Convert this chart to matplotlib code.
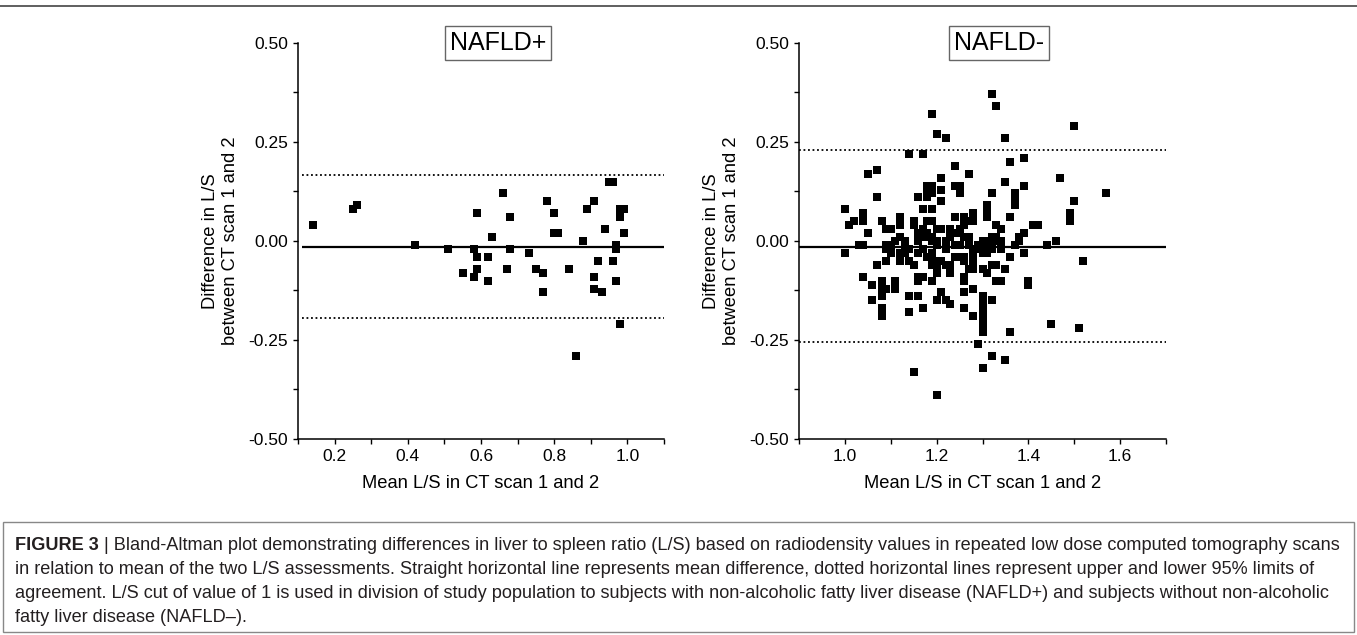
import matplotlib
matplotlib.use("Agg")
import matplotlib.pyplot as plt
from matplotlib.ticker import MultipleLocator, FormatStrFormatter
from matplotlib.lines import Line2D
from matplotlib.patches import Rectangle

plt.rcParams['font.family'] = ['Liberation Sans', 'DejaVu Sans']

# NAFLD+ panel: mean L/S vs difference in L/S
pos_mean = [0.14, 0.25, 0.26, 0.42, 0.51, 0.55, 0.58, 0.58, 0.59, 0.59, 0.59,
            0.62, 0.62, 0.63, 0.66, 0.67, 0.68, 0.68, 0.73, 0.75, 0.77, 0.77,
            0.78, 0.80, 0.80, 0.81, 0.84, 0.86, 0.88, 0.89, 0.91, 0.91, 0.91,
            0.92, 0.93, 0.94, 0.95, 0.96, 0.96, 0.97, 0.97, 0.97, 0.98, 0.98,
            0.98, 0.99, 0.99]
pos_diff = [0.04, 0.08, 0.09, -0.01, -0.02, -0.08, -0.02, -0.09, 0.07, -0.04, -0.07,
            -0.04, -0.10, 0.01, 0.12, -0.07, 0.06, -0.02, -0.03, -0.07, -0.08, -0.13,
            0.10, 0.07, 0.02, 0.02, -0.07, -0.29, 0.00, 0.08, 0.10, -0.09, -0.12,
            -0.05, -0.13, 0.03, 0.15, 0.15, -0.05, -0.01, -0.02, -0.10, 0.08, 0.06,
            -0.21, 0.08, 0.02]
pos_bias = -0.014
pos_limits = [0.167, -0.194]

# NAFLD- panel
neg_mean = [
    1.00, 1.00, 1.01, 1.02, 1.03, 1.04, 1.04, 1.04, 1.04, 1.05, 1.05,
    1.06, 1.06, 1.07, 1.07, 1.07, 1.08, 1.08, 1.08, 1.08, 1.08, 1.08,
    1.09, 1.09, 1.09, 1.09, 1.09, 1.10, 1.10, 1.10, 1.11, 1.11, 1.11,
    1.12, 1.12, 1.12, 1.12, 1.12, 1.13, 1.13, 1.13,
    1.14, 1.14, 1.14, 1.14, 1.14, 1.15, 1.15, 1.15, 1.15,
    1.16, 1.16, 1.16, 1.16, 1.16, 1.16, 1.16,
    1.17, 1.17, 1.17, 1.17, 1.17, 1.17, 1.17,
    1.18, 1.18, 1.18, 1.18, 1.18, 1.18, 1.18,
    1.19, 1.19, 1.19, 1.19, 1.19, 1.19, 1.19, 1.19, 1.19, 1.19, 1.19,
    1.20, 1.20, 1.20, 1.20, 1.20, 1.20, 1.20, 1.20, 1.20,
    1.21, 1.21, 1.21, 1.21, 1.21, 1.21,
    1.22, 1.22, 1.22, 1.22, 1.22,
    1.23, 1.23, 1.23, 1.23, 1.23,
    1.24, 1.24, 1.24, 1.24, 1.24, 1.24,
    1.25, 1.25, 1.25, 1.25, 1.25, 1.25,
    1.26, 1.26, 1.26, 1.26, 1.26, 1.26, 1.26, 1.26, 1.26,
    1.27, 1.27, 1.27, 1.27, 1.27,
    1.28, 1.28, 1.28, 1.28, 1.28, 1.28, 1.28, 1.28,
    1.29, 1.29, 1.29,
    1.30, 1.30, 1.30, 1.30, 1.30, 1.30, 1.30, 1.30, 1.30, 1.30, 1.30,
    1.31, 1.31, 1.31, 1.31, 1.31, 1.31, 1.31, 1.31,
    1.32, 1.32, 1.32, 1.32, 1.32, 1.32, 1.32, 1.32,
    1.33, 1.33, 1.33, 1.33, 1.33, 1.33,
    1.34, 1.34, 1.34, 1.34, 1.35, 1.35, 1.35, 1.35,
    1.36, 1.36, 1.36, 1.36, 1.37, 1.37, 1.37, 1.37,
    1.38, 1.38, 1.39, 1.39, 1.39, 1.39, 1.40, 1.40,
    1.41, 1.42, 1.44, 1.45, 1.46, 1.47, 1.49, 1.49, 1.50, 1.50, 1.51, 1.52, 1.57,
]
neg_diff = [
    0.08, -0.03, 0.04, 0.05, -0.01, 0.07, 0.05, -0.01, -0.09, 0.17, 0.02,
    -0.11, -0.15, 0.18, 0.11, -0.06, 0.05, -0.10, -0.12, -0.14, -0.17, -0.19,
    0.03, -0.01, -0.02, -0.05, -0.12, 0.03, -0.01, -0.03, 0.00, -0.10, -0.12,
    0.06, 0.04, 0.01, -0.03, -0.05, 0.00, -0.03, -0.01,
    0.22, -0.02, -0.05, -0.14, -0.18, 0.05, 0.04, -0.06, -0.33,
    0.11, 0.02, 0.00, -0.03, -0.09, -0.10, -0.14,
    0.22, 0.08, 0.03, 0.01, -0.02, -0.09, -0.17,
    0.14, 0.12, 0.11, 0.05, 0.02, 0.01, -0.04,
    0.32, 0.14, 0.12, 0.08, 0.05, 0.01, 0.00, -0.03, -0.04, -0.06, -0.10,
    0.27, 0.03, 0.00, -0.01, -0.05, -0.07, -0.08, -0.15, -0.39,
    0.16, 0.13, 0.10, 0.03, -0.05, -0.13,
    0.26, 0.00, -0.02, -0.06, -0.15,
    0.03, 0.01, -0.06, -0.08, -0.16,
    0.19, 0.14, 0.06, 0.02, -0.01, -0.04,
    0.14, 0.12, 0.03, 0.02, -0.01, -0.04,
    0.06, 0.04, 0.01, -0.04, -0.05, -0.09, -0.10, -0.13, -0.17,
    0.17, 0.05, 0.01, -0.01, -0.07,
    0.07, 0.05, -0.02, -0.03, -0.05, -0.07, -0.12, -0.19,
    -0.01, -0.02, -0.26,
    0.00, -0.02, -0.03, -0.07, -0.14, -0.15, -0.17, -0.19, -0.21, -0.23, -0.32,
    0.09, 0.08, 0.07, 0.06, 0.00, -0.01, -0.03, -0.08,
    0.37, 0.12, 0.01, 0.00, -0.02, -0.06, -0.15, -0.29,
    0.34, 0.04, 0.01, 0.00, -0.06, -0.10,
    0.03, 0.00, -0.02, -0.10, 0.26, 0.15, -0.07, -0.30,
    0.20, 0.06, -0.04, -0.23, 0.12, 0.11, 0.09, -0.01,
    0.01, 0.00, 0.21, 0.14, 0.02, -0.03, -0.10, -0.11,
    0.04, 0.04, -0.01, -0.21, 0.00, 0.16, 0.07, 0.05, 0.29, 0.10, -0.22, -0.05, 0.12,
]
neg_bias = -0.014
neg_limits = [0.230, -0.256]

caption_lines = [
    "in relation to mean of the two L/S assessments. Straight horizontal line represents mean difference, "
    "dotted horizontal lines represent upper and lower 95% limits of",
    "agreement. L/S cut of value of 1 is used in division of study population to subjects with "
    "non-alcoholic fatty liver disease (NAFLD+) and subjects without non-alcoholic",
    "fatty liver disease (NAFLD\u2013).",
]
caption_first = (" | Bland-Altman plot demonstrating differences in liver to spleen ratio (L/S) based on "
                 "radiodensity values in repeated low dose computed tomography scans")

W, H = 1357, 635
fig = plt.figure(figsize=(W / 100, H / 100), dpi=100)
ax1 = fig.add_axes([298 / W, 1 - 439 / H, 366 / W, 396 / H])
ax2 = fig.add_axes([799 / W, 1 - 439 / H, 367 / W, 396 / H])


def style(ax, xlim, title):
    ax.set_xlim(*xlim)
    ax.set_ylim(-0.5, 0.5)
    ax.xaxis.set_major_locator(MultipleLocator(0.2))
    ax.xaxis.set_minor_locator(MultipleLocator(0.1))
    ax.yaxis.set_major_locator(MultipleLocator(0.25))
    ax.yaxis.set_minor_locator(MultipleLocator(0.125))
    ax.xaxis.set_major_formatter(FormatStrFormatter('%.1f'))
    ax.yaxis.set_major_formatter(FormatStrFormatter('%.2f'))
    for s in ['top', 'right']:
        ax.spines[s].set_visible(False)
    for s in ['left', 'bottom']:
        ax.spines[s].set_linewidth(1.1)
    ax.tick_params(which='both', direction='out', length=3.6, width=1.0, labelsize=12.5)
    ax.set_xlabel('Mean L/S in CT scan 1 and 2', fontsize=13.2, labelpad=8)
    ax.set_ylabel('Difference in L/S\nbetween CT scan 1 and 2', fontsize=13.2, labelpad=7,
                  linespacing=1.25)
    ax.text(0.546, 1.0, title, transform=ax.transAxes, ha='center', va='center', fontsize=18,
            bbox=dict(boxstyle='square,pad=0.2', fc='white', ec='#666666', lw=1.0))


style(ax1, (0.1, 1.1), 'NAFLD+')
style(ax2, (0.9, 1.7), 'NAFLD-')

dots = (0, (1, 1.5))
ax1.hlines(pos_bias, 0.11, 1.1, color='black', lw=1.6)
ax1.hlines(pos_limits, 0.11, 1.1, color='black', lw=1.3, linestyles=[dots])
ax1.plot(pos_mean, pos_diff, 's', color='black', markersize=5.1, markeredgewidth=0)

ax2.axhline(neg_bias, color='black', lw=1.6)
for lim in neg_limits:
    ax2.axhline(lim, color='black', lw=1.3, linestyle=dots)
ax2.plot(neg_mean, neg_diff, 's', color='black', markersize=5.1, markeredgewidth=0)

# frame bits of the journal figure
fig.add_artist(Line2D([0, 1], [1 - 6 / H] * 2, color='#444444', lw=1.2, transform=fig.transFigure))
fig.add_artist(Rectangle((3 / W, 1 - 632 / H), 1351 / W, 110 / H, transform=fig.transFigure,
                         fill=False, ec='#888888', lw=1.0))

cap = dict(fontsize=13.1, color='#231f20', va='center', ha='left')
bold = fig.text(15 / W, 1 - 546 / H, 'FIGURE 3', fontweight='bold', **cap)
fig.canvas.draw()
bb = bold.get_window_extent()
fig.text(bb.x1 / fig.bbox.width, 1 - 546 / H, caption_first, **cap)
for i, line in enumerate(caption_lines):
    fig.text(15 / W, 1 - (570 + 24 * i) / H, line, **cap)

fig.savefig('out.png', dpi=100)
